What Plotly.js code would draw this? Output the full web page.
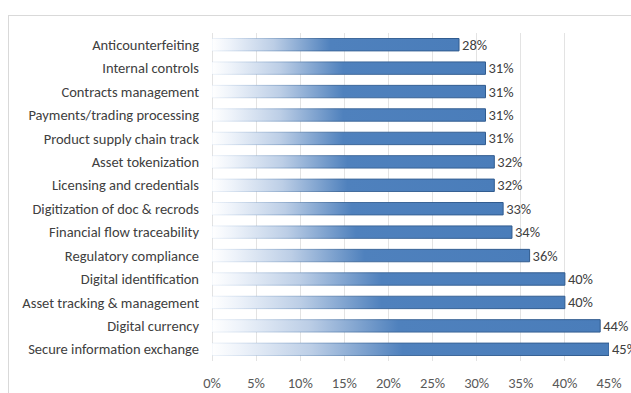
<!DOCTYPE html>
<html>
<head>
<meta charset="utf-8">
<script src="https://cdn.plot.ly/plotly-3.0.1.min.js"></script>
<style>
html,body{margin:0;padding:0;background:#fff;overflow:hidden;width:631px;height:393px;}
#frame{position:absolute;left:8px;top:15px;width:700px;height:500px;border:1px solid #d9d9d9;box-sizing:border-box;}
#chart{position:absolute;left:0;top:0;width:631px;height:393px;}
</style>
</head>
<body>
<div id="frame"></div>
<div id="chart"></div>
<script>
const categories = [
  "Anticounterfeiting",
  "Internal controls",
  "Contracts management",
  "Payments/trading processing",
  "Product supply chain track",
  "Asset tokenization",
  "Licensing and credentials",
  "Digitization of doc & recrods",
  "Financial flow traceability",
  "Regulatory compliance",
  "Digital identification",
  "Asset tracking & management",
  "Digital currency",
  "Secure information exchange"
];
const shares = [0.28, 0.31, 0.31, 0.31, 0.31, 0.32, 0.32, 0.33, 0.34, 0.36, 0.40, 0.40, 0.44, 0.45];
const xTickVals = [0, 0.05, 0.10, 0.15, 0.20, 0.25, 0.30, 0.35, 0.40, 0.45];
const xTickText = ["0%", "5%", "10%", "15%", "20%", "25%", "30%", "35%", "40%", "45%"];

const FONT = "Carlito, Lato, 'Open Sans', sans-serif";

const trace = {
  type: "bar",
  orientation: "h",
  y: categories,
  x: shares,
  marker: {color: "#4f81bd", line: {color: "#3a6598", width: 1}},
  text: shares.map(v => Math.round(v * 100) + "%"),
  textposition: "outside",
  constraintext: "none",
  cliponaxis: false,
  textfont: {family: FONT, size: 14.5, color: "#404040"},
  hoverinfo: "none"
};

const layout = {
  width: 631, height: 393,
  margin: {l: 212, r: 22, t: 33, b: 32},
  paper_bgcolor: "rgba(0,0,0,0)",
  plot_bgcolor: "rgba(0,0,0,0)",
  bargap: 0.47,
  showlegend: false,
  font: {family: FONT, size: 14.5, color: "#404040"},
  xaxis: {
    range: [0, 0.45],
    tickvals: xTickVals,
    ticktext: xTickText,
    showgrid: true, gridcolor: "#e3e3e3", gridwidth: 1,
    zeroline: true, zerolinecolor: "#e3e3e3",
    showline: false, ticks: "",
    ticklabelstandoff: 11,
    tickfont: {family: FONT, size: 14.5, color: "#595959"},
    fixedrange: true
  },
  yaxis: {
    type: "category",
    autorange: "reversed",
    showgrid: false, zeroline: false, showline: false, ticks: "",
    ticklabelstandoff: 12,
    tickfont: {family: FONT, size: 14.5, color: "#404040"},
    fixedrange: true
  }
};

Plotly.newPlot("chart", [trace], layout, {staticPlot: true, displayModeBar: false}).then(gd => {
  const svg = gd.querySelector("svg.main-svg");
  const NS = "http://www.w3.org/2000/svg";
  let defs = svg.querySelector("defs");
  if (!defs) { defs = document.createElementNS(NS, "defs"); svg.insertBefore(defs, svg.firstChild); }
  function grad(id, stops, vertical) {
    const g = document.createElementNS(NS, "linearGradient");
    g.setAttribute("id", id);
    g.setAttribute("x1", "0"); g.setAttribute("y1", "0");
    g.setAttribute("x2", vertical ? "0" : "1"); g.setAttribute("y2", vertical ? "1" : "0");
    stops.forEach(s => {
      const st = document.createElementNS(NS, "stop");
      st.setAttribute("offset", s[0]);
      st.setAttribute("stop-color", s[1]);
      st.setAttribute("stop-opacity", s[2] === undefined ? 1 : s[2]);
      g.appendChild(st);
    });
    defs.appendChild(g);
  }
  grad("barFill", [["0", "#ffffff"], ["0.07", "#eef3fa"], ["0.25", "#bccee6"], ["0.48", "#4f81bd"], ["1", "#4a7dba"]]);
  grad("barStroke", [["0", "#8fb0d8", 0.15], ["0.45", "#3a6598", 0.9], ["1", "#2f5a8e"]]);
  svg.querySelectorAll(".bars .point path").forEach(p => {
    p.style.fill = "url(#barFill)";
    p.style.stroke = "url(#barStroke)";
    p.style.fillOpacity = 1;
  });
});
</script>
</body>
</html>
